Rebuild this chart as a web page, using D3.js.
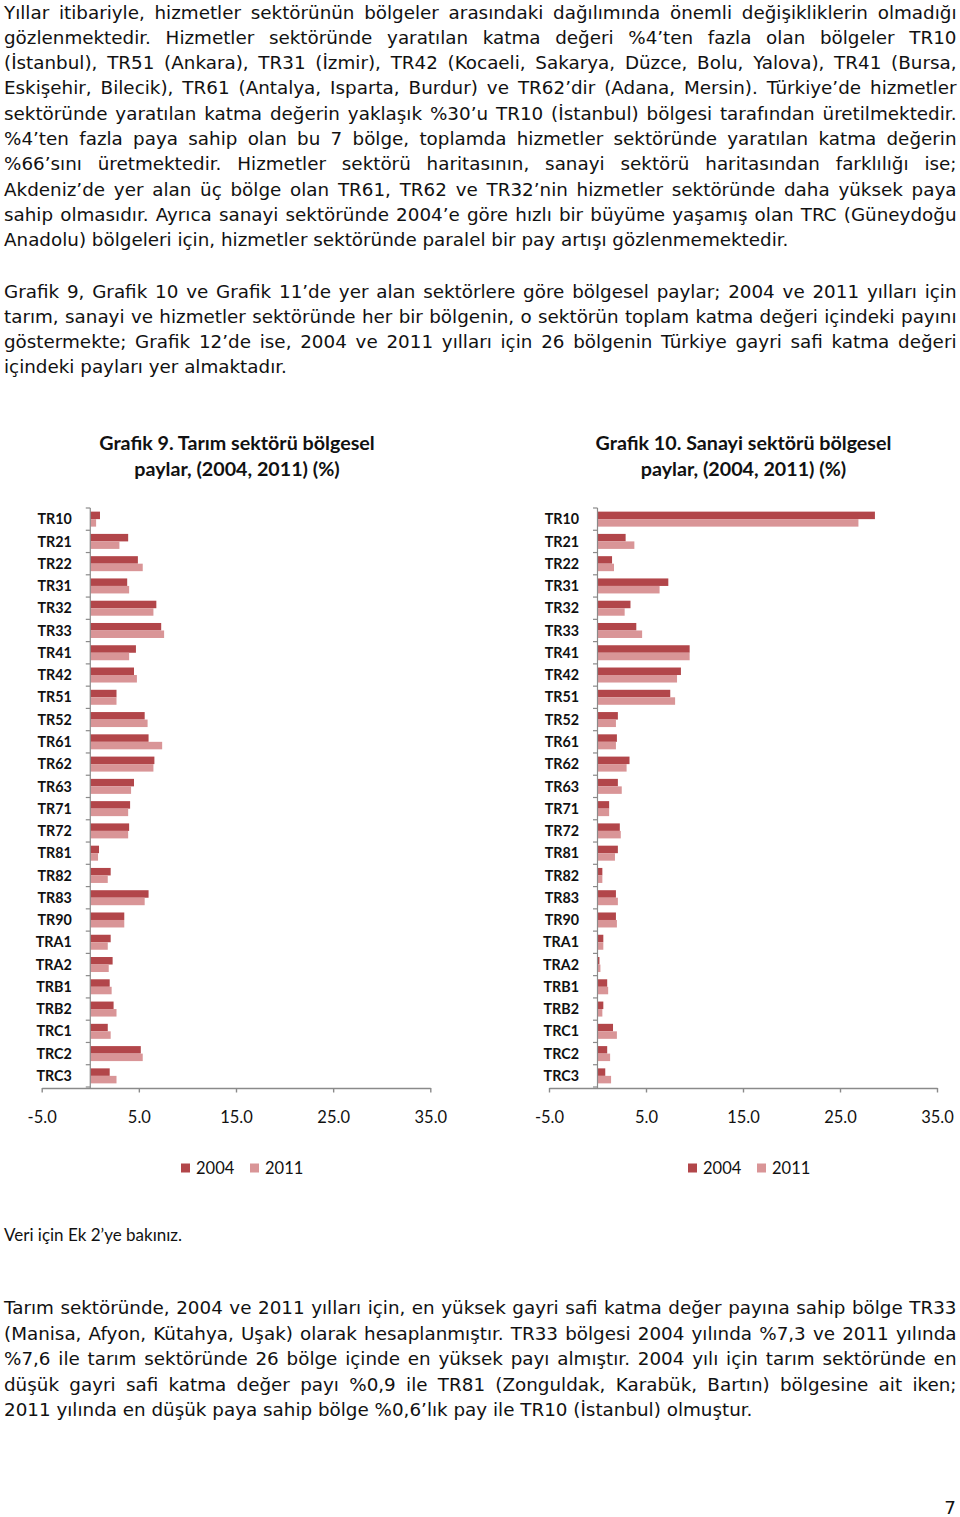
<!DOCTYPE html>
<html>
<head>
<meta charset="utf-8">
<script src="https://cdn.jsdelivr.net/npm/d3@7"></script>
<style>
  html, body { margin: 0; padding: 0; background: #fff; }
  svg { display: block; }
</style>
</head>
<body>
<script>
// ---------- DATA ----------
const categories = ["TR10","TR21","TR22","TR31","TR32","TR33","TR41","TR42","TR51","TR52","TR61","TR62","TR63","TR71","TR72","TR81","TR82","TR83","TR90","TRA1","TRA2","TRB1","TRB2","TRC1","TRC2","TRC3"];
const tarim2004 = [1.0,3.9,4.9,3.8,6.8,7.3,4.7,4.5,2.7,5.6,6.0,6.6,4.5,4.1,4.0,0.9,2.1,6.0,3.5,2.1,2.3,2.0,2.4,1.8,5.2,2.0];
const tarim2011 = [0.6,3.0,5.4,4.0,6.5,7.6,4.0,4.8,2.7,5.9,7.4,6.5,4.2,3.9,3.9,0.8,1.8,5.6,3.5,1.8,1.9,2.2,2.7,2.1,5.4,2.7];
const sanayi2004 = [28.6,2.9,1.5,7.3,3.4,4.0,9.5,8.6,7.5,2.1,2.0,3.3,2.1,1.2,2.3,2.1,0.5,1.9,1.9,0.6,0.2,1.0,0.6,1.6,1.0,0.8];
const sanayi2011 = [26.9,3.8,1.7,6.4,2.8,4.6,9.5,8.2,8.0,1.9,1.9,3.0,2.5,1.2,2.4,1.8,0.5,2.1,2.0,0.6,0.3,1.1,0.5,2.0,1.3,1.4];
const seriesNames = ["2004","2011"];
const xTicks = [-5,5,15,25,35];
const xDomain = [-5,35];

const para1 = [
"Yıllar itibariyle, hizmetler sektörünün bölgeler arasındaki dağılımında önemli değişikliklerin olmadığı",
"gözlenmektedir. Hizmetler sektöründe yaratılan katma değeri %4’ten fazla olan bölgeler TR10",
"(İstanbul), TR51 (Ankara), TR31 (İzmir), TR42 (Kocaeli, Sakarya, Düzce, Bolu, Yalova), TR41 (Bursa,",
"Eskişehir, Bilecik), TR61 (Antalya, Isparta, Burdur) ve TR62’dir (Adana, Mersin). Türkiye’de hizmetler",
"sektöründe yaratılan katma değerin yaklaşık %30’u TR10 (İstanbul) bölgesi tarafından üretilmektedir.",
"%4’ten fazla paya sahip olan bu 7 bölge, toplamda hizmetler sektöründe yaratılan katma değerin",
"%66’sını üretmektedir. Hizmetler sektörü haritasının, sanayi sektörü haritasından farklılığı ise;",
"Akdeniz’de yer alan üç bölge olan TR61, TR62 ve TR32’nin hizmetler sektöründe daha yüksek paya",
"sahip olmasıdır. Ayrıca sanayi sektöründe 2004’e göre hızlı bir büyüme yaşamış olan TRC (Güneydoğu",
"Anadolu) bölgeleri için, hizmetler sektöründe paralel bir pay artışı gözlenmemektedir."
];
const para2 = [
"Grafik 9, Grafik 10 ve Grafik 11’de yer alan sektörlere göre bölgesel paylar; 2004 ve 2011 yılları için",
"tarım, sanayi ve hizmetler sektöründe her bir bölgenin, o sektörün toplam katma değeri içindeki payını",
"göstermekte; Grafik 12’de ise, 2004 ve 2011 yılları için 26 bölgenin Türkiye gayri safi katma değeri",
"içindeki payları yer almaktadır."
];
const para3 = [
"Tarım sektöründe, 2004 ve 2011 yılları için, en yüksek gayri safi katma değer payına sahip bölge TR33",
"(Manisa, Afyon, Kütahya, Uşak) olarak hesaplanmıştır. TR33 bölgesi 2004 yılında %7,3 ve 2011 yılında",
"%7,6 ile tarım sektöründe 26 bölge içinde en yüksek payı almıştır. 2004 yılı için tarım sektöründe en",
"düşük gayri safi katma değer payı %0,9 ile TR81 (Zonguldak, Karabük, Bartın) bölgesine ait iken;",
"2011 yılında en düşük paya sahip bölge %0,6’lık pay ile TR10 (İstanbul) olmuştur."
];
const title9 = ["Grafik 9. Tarım sektörü bölgesel", "paylar, (2004, 2011) (%)"];
const title10 = ["Grafik 10. Sanayi sektörü bölgesel", "paylar, (2004, 2011) (%)"];
const noteText = "Veri için Ek 2’ye bakınız.";
const pageNumber = "7";

// ---------- STYLE ----------
const darkColor = "#B2464A";
const lightColor = "#D99597";
const axisColor = "#8a8a8a";
const bodyFont = "'DejaVu Sans', Verdana, sans-serif";
const chartFont = "Lato, 'Open Sans', sans-serif";

const svg = d3.select("body").append("svg").attr("width", 960).attr("height", 1517);

// ---------- PARAGRAPHS ----------
const textLeft = 4, textRight = 956.5;
const probe = svg.append("text").attr("font-family", bodyFont).attr("font-size", 16).text(para1[para1.length-1]);
const probeW = probe.node().getComputedTextLength();
probe.remove();
const bodySize = 16 * 785 / probeW;

function drawPara(lines, y0, dy) {
  lines.forEach((t, i) => {
    const el = svg.append("text")
      .attr("x", textLeft).attr("y", y0 + i * dy)
      .attr("font-family", bodyFont).attr("font-size", bodySize)
      .attr("fill", "#111").text(t);
    if (i < lines.length - 1) {
      const w = el.node().getComputedTextLength();
      const n = (t.match(/ /g) || []).length;
      if (n > 0) el.style("word-spacing", ((textRight - textLeft - w) / n) + "px");
    }
  });
}
drawPara(para1, 18.5, 25.3);
drawPara(para2, 297.5, 25.3);
drawPara(para3, 1314, 25.5);

svg.append("text").attr("x", 4).attr("y", 1240.5)
  .attr("font-family", chartFont).attr("font-size", 17).attr("fill", "#111").text(noteText);
svg.append("text").attr("x", 956).attr("y", 1514).attr("text-anchor", "end")
  .attr("font-family", bodyFont).attr("font-size", bodySize).attr("fill", "#111").text(pageNumber);

// ---------- CHARTS ----------
function drawChart(cfg) {
  const g = svg.append("g");
  const x = d3.scaleLinear().domain(xDomain).range([cfg.x0, cfg.x1]);
  const y = d3.scaleBand().domain(categories).range([508, 1087]);
  const bh = 7.5;
  const zero = x(0);

  cfg.title.forEach((t, i) => {
    g.append("text").attr("x", cfg.titleX).attr("y", 449.5 + i * 26)
      .attr("text-anchor", "middle").attr("font-family", chartFont)
      .attr("font-weight", "bold").attr("font-size", 19.7).attr("fill", "#111").text(t);
  });

  const rows = categories.map((c, i) => ({ c, v1: cfg.s1[i], v2: cfg.s2[i] }));
  g.selectAll(".b1").data(rows).join("rect")
    .attr("x", d => Math.min(zero, x(d.v1))).attr("width", d => Math.abs(x(d.v1) - zero))
    .attr("y", d => y(d.c) + y.bandwidth() / 2 - bh).attr("height", bh)
    .attr("fill", darkColor);
  g.selectAll(".b2").data(rows).join("rect")
    .attr("x", d => Math.min(zero, x(d.v2))).attr("width", d => Math.abs(x(d.v2) - zero))
    .attr("y", d => y(d.c) + y.bandwidth() / 2).attr("height", bh)
    .attr("fill", lightColor);

  g.append("line").attr("x1", zero).attr("x2", zero).attr("y1", 508).attr("y2", 1088)
    .attr("stroke", axisColor).attr("stroke-width", 1.2);
  const bounds = categories.map(c => y(c)).concat([y.range()[1]]);
  g.selectAll(".ct").data(bounds).join("line")
    .attr("x1", zero - 4.5).attr("x2", zero).attr("y1", d => d).attr("y2", d => d)
    .attr("stroke", axisColor).attr("stroke-width", 1.2);
  g.selectAll(".cl").data(categories).join("text")
    .attr("x", zero - 18.5).attr("y", d => y(d) + y.bandwidth() / 2)
    .attr("dy", "0.36em").attr("text-anchor", "end")
    .attr("font-family", chartFont).attr("font-weight", "bold").attr("font-size", 14.3)
    .attr("fill", "#111").text(d => d);

  const ax = g.append("g").attr("transform", "translate(0,1088)")
    .call(d3.axisBottom(x).tickValues(xTicks).tickFormat(d => d.toFixed(1))
      .tickSize(4.5).tickSizeOuter(0).tickPadding(18.5));
  ax.select(".domain").attr("stroke", axisColor).attr("stroke-width", 1.4);
  ax.selectAll(".tick line").attr("stroke", axisColor).attr("stroke-width", 1.4);
  ax.selectAll(".tick text").attr("font-family", chartFont).attr("font-size", 16.5).attr("fill", "#111");

  const lg = g.append("g").attr("transform", `translate(${cfg.legendX},1168)`);
  const items = [{ n: seriesNames[0], c: darkColor, dx: 0 }, { n: seriesNames[1], c: lightColor, dx: 69 }];
  items.forEach(it => {
    lg.append("rect").attr("x", it.dx).attr("y", -4.5).attr("width", 9).attr("height", 9).attr("fill", it.c);
    lg.append("text").attr("x", it.dx + 15).attr("y", 0).attr("dy", "0.36em")
      .attr("font-family", chartFont).attr("font-size", 16.5).attr("fill", "#111").text(it.n);
  });
}

drawChart({ x0: 41.7, x1: 430.3, s1: tarim2004, s2: tarim2011, title: title9, titleX: 237, legendX: 181 });
drawChart({ x0: 549, x1: 937, s1: sanayi2004, s2: sanayi2011, title: title10, titleX: 743.5, legendX: 688 });
</script>
</body>
</html>
